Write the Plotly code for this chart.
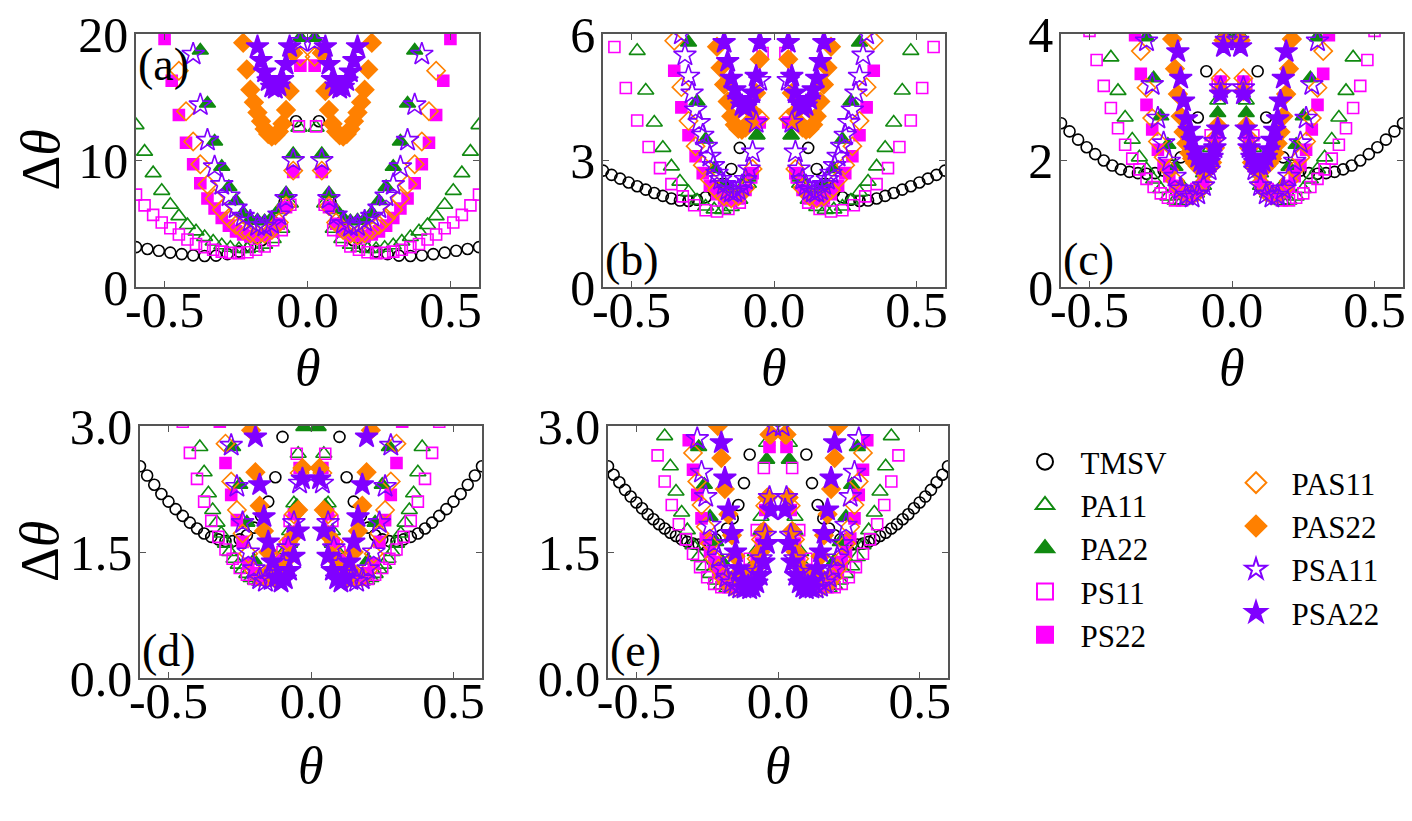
import plotly.graph_objects as go

names = ["TMSV", "PA11", "PA22", "PS11", "PS22", "PAS11", "PAS22", "PSA11", "PSA22"]

# curves are symmetric in theta; values below are the theta > 0 half,
# first point at theta = step, None = above the frame
steps_a = [0.04, 0.03, 0.025, 0.03, 0.025, 0.025, 0.0125, 0.025, 0.0125]
a_tmsv = [13.1, 6.7, 4.6, 3.7, 3.2, 2.8, 2.6, 2.48, 2.45, 2.5, 2.6, 2.72, 2.86, 3.0, 3.15]
a_pa11 = [12.6, 6.6, 4.6, 3.8, 3.35, 3.1, 3.0, 3.0, 3.1, 3.3, 3.6, 3.95, 4.4, 4.9, 5.6, 6.5, 7.6, 9.0, 10.7, 12.8]
a_pa22 = [19.7, 10.5, 7.4, 6.1, 5.45, 5.2, 5.25, 5.35, 5.85, 6.8, 7.9, 9.5, 11.5, 14.5, 18.7]
a_ps11 = [12.7, 6.5, 4.5, 3.7, 3.2, 2.95, 2.75, 2.68, 2.7, 2.8, 2.95, 3.15, 3.4, 3.75, 4.15, 4.65, 5.1, 5.7, 6.45, 7.3]
a_ps22 = [17.5, 9.1, 6.3, 5.0, 4.4, 4.1, 4.05, 4.0, 4.15, 4.4, 4.85, 5.45, 6.2, 7.0, 8.2, 9.7, 11.4, 13.6, 16.3, 19.6]
a_pas11 = [18.2, 9.2, 6.4, 5.1, 4.5, 4.2, 4.1, 4.25, 4.5, 4.9, 5.45, 6.1, 7.0, 8.1, 9.7, 11.5, 13.9, 17.1]
a_pas22 = [None, None, None, 18.5, 15.5, 14.0, 12.9, 12.3, 12.0, 11.9, 12.1, 12.5, 13.1, 13.8, 14.6, 15.6, 17.2, 19.3]
a_psa11 = [19.4, 10.0, 7.0, 5.7, 5.0, 4.8, 4.85, 5.2, 5.6, 6.25, 7.2, 8.1, 9.5, 11.6, 14.4, 18.4]
a_psa22 = [None, None, None, None, 19.0, 17.6, 16.4, 15.9, 15.7, 15.8, 16.3, 17.0, 17.9, 19.0]

steps_b = [0.03, 0.03, 0.03, 0.04, 0.025, 0.025, 0.0125, 0.0125, 0.0125]
b_tmsv = [None, None, None, 3.3, 2.8, 2.45, 2.25, 2.13, 2.07, 2.04, 2.05, 2.1, 2.16, 2.23, 2.31, 2.39, 2.48, 2.57, 2.66, 2.76]
b_pa11 = [None, 3.6, 2.45, 2.07, 1.9, 1.83, 1.84, 1.91, 2.05, 2.25, 2.5, 2.86, 3.3, 3.9, 4.66, 5.6]
b_pa22 = [None, 3.6, 2.6, 2.3, 2.25, 2.4, 2.8, 3.5, 4.4, 5.8]
b_ps11 = [5.55, 2.6, 2.0, 1.85, 1.79, 1.82, 1.94, 2.15, 2.44, 2.82, 3.32, 3.95, 4.72, 5.69]
b_ps22 = [None, 3.9, 2.7, 2.3, 2.1, 2.05, 2.1, 2.2, 2.4, 2.7, 3.1, 3.6, 4.26, 5.13]
b_pas11 = [None, 4.0, 2.8, 2.35, 2.15, 2.1, 2.15, 2.3, 2.55, 2.89, 3.34, 3.94, 4.74, 5.84]
b_pas22 = [None, None, None, 5.4, 4.6, 4.15, 3.9, 3.78, 3.73, 3.75, 3.85, 4.05, 4.4, 4.8, 5.2, 5.7]
b_psa11 = [None, None, None, 4.9, 3.9, 3.2, 2.8, 2.55, 2.4, 2.3, 2.25, 2.25, 2.3, 2.43, 2.55, 2.7,
           2.88, 3.1, 3.34, 3.6, 3.9, 4.2, 4.6, 5.0, 5.5, 6.0]
b_psa22 = [None, None, None, 5.8, 5.0, 4.6, 4.35, 4.25, 4.3, 4.45, 4.68, 4.95, 5.35, 5.8]

steps_c = [0.03, 0.025, 0.025, 0.025, 0.02, 0.02, 0.01, 0.02, 0.01]
c_tmsv = [None, None, 3.41, 2.68, 2.3, 2.05, 1.92, 1.84, 1.8, 1.79, 1.8, 1.82, 1.86, 1.92, 2.0, 2.1, 2.21, 2.33, 2.46, 2.59]
c_pa11 = [None, 2.95, 2.2, 1.8, 1.55, 1.42, 1.36, 1.37, 1.43, 1.55, 1.7, 1.86, 2.05, 2.33, 2.68, 3.1, 3.63]
c_pa22 = [4.0, 2.75, 1.95, 1.6, 1.48, 1.45, 1.6, 1.9, 2.25, 2.7, 3.3, 3.95]
c_ps11 = [None, 3.2, 2.4, 1.85, 1.55, 1.42, 1.37, 1.37, 1.41, 1.48, 1.58, 1.71, 1.86, 2.03, 2.25, 2.51, 2.83, 3.18, 3.59, 4.05]
c_ps22 = [None, 3.25, 2.3, 1.9, 1.65, 1.52, 1.45, 1.45, 1.5, 1.6, 1.75, 1.93, 2.17, 2.49, 2.88, 3.37, 3.98]
c_pas11 = [None, 3.3, 2.35, 1.9, 1.65, 1.5, 1.45, 1.47, 1.55, 1.68, 1.85, 2.05, 2.3, 2.67, 3.15, 3.73]
c_pas22 = [None, None, 3.9, 3.1, 2.55, 2.2, 1.97, 1.88, 1.85, 1.85, 1.87, 1.91, 1.96, 2.03, 2.12, 2.27,
           2.45, 2.7, 3.05, 3.45, 3.92]
c_psa11 = [3.9, 3.15, 2.3, 1.85, 1.6, 1.47, 1.42, 1.45, 1.55, 1.75, 1.99, 2.28, 2.67, 3.2, 3.89]
c_psa22 = [None, None, 3.8, 3.05, 2.5, 2.2, 2.05, 1.97, 1.93, 1.93, 1.98, 2.05, 2.17, 2.32, 2.48, 2.66,
           2.94, 3.3, 3.72]

steps_d = [0.025, 0.015, 0.025, 0.025, 0.02, 0.02, 0.015, 0.02, 0.015]
d_tmsv = [None, None, None, 2.87, 2.39, 2.1, 1.93, 1.79, 1.7, 1.65, 1.63, 1.63, 1.65, 1.68, 1.72, 1.78,
          1.85, 1.93, 2.01, 2.1, 2.19, 2.3, 2.41, 2.52]
d_pa11 = [None, None, 2.67, 2.08, 1.75, 1.52, 1.38, 1.28, 1.22, 1.18, 1.16, 1.15, 1.16, 1.19, 1.24, 1.29,
          1.35, 1.42, 1.5, 1.6, 1.72, 1.85, 2.0, 2.2, 2.45, 2.75, 3.05]
d_pa22 = [2.99, 2.05, 1.6, 1.36, 1.22, 1.15, 1.18, 1.4, 1.85, 2.3, 2.75, 3.3]
d_ps11 = [None, 2.67, 1.87, 1.5, 1.32, 1.22, 1.18, 1.18, 1.23, 1.31, 1.42, 1.53, 1.68, 1.87, 2.1, 2.37, 2.68, 3.05]
d_ps22 = [None, 2.5, 1.95, 1.6, 1.4, 1.28, 1.2, 1.17, 1.18, 1.25, 1.36, 1.62, 1.88, 2.18, 2.56, 3.05]
d_pas11 = [None, 2.44, 1.95, 1.62, 1.42, 1.3, 1.22, 1.19, 1.2, 1.28, 1.48, 1.72, 2.0, 2.34, 2.79, 3.3]
d_pas22 = [None, 2.5, 2.0, 1.7, 1.45, 1.3, 1.2, 1.16, 1.3, 1.5, 1.75, 2.05, 2.45, 2.95]
d_psa11 = [None, 2.32, 1.85, 1.55, 1.36, 1.24, 1.17, 1.15, 1.18, 1.3, 1.5, 1.85, 2.28, 2.77]
d_psa22 = [None, 2.37, 1.75, 1.45, 1.28, 1.18, 1.14, 1.2, 1.38, 1.62, 1.92, 2.3, 2.87]

steps_e = [0.02, 0.02, 0.02, 0.025, 0.015, 0.015, 0.0125, 0.015, 0.0125]
e_tmsv = [None, None, None, None, 2.66, 2.32, 2.06, 1.9, 1.78, 1.7, 1.65, 1.61, 1.59, 1.59, 1.6, 1.62,
          1.65, 1.69, 1.73, 1.78, 1.83, 1.89, 1.95, 2.02, 2.09, 2.16, 2.24, 2.33, 2.42, 2.52]
e_pa11 = [None, 2.8, 1.92, 1.5, 1.3, 1.17, 1.1, 1.07, 1.07, 1.1, 1.16, 1.24, 1.33, 1.44, 1.58, 1.76,
          1.97, 2.22, 2.52, 2.88]
e_pa22 = [None, 2.6, 1.75, 1.35, 1.18, 1.1, 1.06, 1.1, 1.2, 1.4, 1.62, 1.92, 2.3, 2.75]
e_ps11 = [None, 2.5, 1.76, 1.42, 1.22, 1.12, 1.08, 1.08, 1.12, 1.2, 1.32, 1.48, 1.65, 1.83, 2.06, 2.34, 2.65]
e_ps22 = [None, 2.75, 2.0, 1.6, 1.38, 1.24, 1.15, 1.1, 1.08, 1.08, 1.1, 1.14, 1.2, 1.28, 1.38, 1.5,
          1.66, 1.9, 2.18, 2.48, 2.83]
e_pas11 = [None, 2.9, 2.05, 1.65, 1.42, 1.27, 1.18, 1.12, 1.09, 1.08, 1.1, 1.13, 1.2, 1.3, 1.42, 1.6,
           1.8, 2.06, 2.34, 2.68]
e_pas22 = [None, 2.9, 2.15, 1.75, 1.5, 1.33, 1.2, 1.12, 1.08, 1.12, 1.25, 1.45, 1.7, 1.95, 2.25, 2.62, 3.0]
e_psa11 = [3.0, 2.15, 1.7, 1.42, 1.26, 1.16, 1.1, 1.07, 1.07, 1.09, 1.13, 1.2, 1.3, 1.43, 1.6, 1.82,
           2.16, 2.45, 2.85]
e_psa22 = [None, 2.0, 1.6, 1.38, 1.22, 1.13, 1.08, 1.06, 1.08, 1.15, 1.3, 1.5, 1.72, 2.0, 2.38, 2.8]

panels = [
    ("a", steps_a, [a_tmsv, a_pa11, a_pa22, a_ps11, a_ps22, a_pas11, a_pas22, a_psa11, a_psa22]),
    ("b", steps_b, [b_tmsv, b_pa11, b_pa22, b_ps11, b_ps22, b_pas11, b_pas22, b_psa11, b_psa22]),
    ("c", steps_c, [c_tmsv, c_pa11, c_pa22, c_ps11, c_ps22, c_pas11, c_pas22, c_psa11, c_psa22]),
    ("d", steps_d, [d_tmsv, d_pa11, d_pa22, d_ps11, d_ps22, d_pas11, d_pas22, d_psa11, d_psa22]),
    ("e", steps_e, [e_tmsv, e_pa11, e_pa22, e_ps11, e_ps22, e_pas11, e_pas22, e_psa11, e_psa22]),
]
yticks = {"a": [0, 10, 20], "b": [0, 3, 6], "c": [0, 2, 4], "d": [0, 1.5, 3], "e": [0, 1.5, 3]}
xticks = [-0.5, 0, 0.5]
xticktext = ["-0.5", "0.0", "0.5"]

GREEN, MAG, ORANGE, PURPLE = "#118a11", "#ff00ff", "#ff8000", "#8000ff"
styles = [
    ("circle-open", "black", 11),
    ("triangle-up-open", GREEN, 14),
    ("triangle-up", GREEN, 14),
    ("square-open", MAG, 11),
    ("square", MAG, 11),
    ("diamond-open", ORANGE, 14),
    ("diamond", ORANGE, 14),
    ("star-open", PURPLE, 17),
    ("star", PURPLE, 17),
]

W, H = 1412, 821
# plot frames in pixels: left, right, top, bottom
frames = {"a": (136, 479, 34, 287), "b": (603, 945, 34, 287), "c": (1061, 1403, 34, 287),
          "d": (140, 482, 426, 678), "e": (608, 948, 426, 678)}
# gap from frame bottom to the centre of the theta label, per row
title_gap = {"a": 80, "b": 80, "c": 80, "d": 87, "e": 87}
FONT = "Liberation Serif"

fig = go.Figure()
for i, (p, steps, series) in enumerate(panels):
    ax = "" if i == 0 else str(i + 1)
    for j, vals in enumerate(series):
        st = steps[j]
        th = [round(st * (k + 1), 4) for k in range(len(vals))]
        xs = [-t for t in th[::-1]] + th
        ys = vals[::-1] + vals
        sym, col, sz = styles[j]
        fig.add_trace(go.Scatter(
            x=xs, y=ys, mode="markers", name=names[j],
            xaxis="x" + ax, yaxis="y" + ax, showlegend=False,
            marker=dict(symbol=sym, color=col, size=sz, line=dict(color=col, width=1.6)),
        ))

    l, r, t, b = frames[p]
    axis_common = dict(showline=True, linecolor="#555", linewidth=1.5, mirror="ticks",
                       ticks="inside", ticklen=6, tickwidth=1.2, tickcolor="#555",
                       showgrid=False, zeroline=False, automargin=False,
                       ticklabeloverflow="allow",
                       tickfont=dict(family=FONT, size=50, color="black"))
    fig.update_layout(**{
        "xaxis" + ax: dict(domain=[l / W, r / W], range=[-0.6, 0.6], anchor="y" + ax,
                           tickvals=xticks, ticktext=xticktext, ticklabelstandoff=-22,
                           **axis_common),
        "yaxis" + ax: dict(domain=[1 - b / H, 1 - t / H], range=[0, yticks[p][-1]], anchor="x" + ax,
                           tickvals=yticks[p], tickformat=".1f" if p in "de" else "d",
                           ticklabelstandoff=-4, **axis_common),
    })
    # axis titles
    fig.add_annotation(text="<i>θ</i>", xref="x%s domain" % ax, yref="paper",
                       x=0.5, y=1 - (b + title_gap[p]) / H, xanchor="center", yanchor="middle",
                       showarrow=False, font=dict(family=FONT, size=52, color="black"))
    if p in "ad":
        fig.add_annotation(text="Δ<i>θ</i>", xref="paper", yref="y%s domain" % ax,
                           x=40 / W, y=0.5, xanchor="center", yanchor="middle",
                           textangle=-90, showarrow=False,
                           font=dict(family=FONT, size=54, color="black"))
    top = p == "a"
    fig.add_annotation(text="(%s)" % p, xref="x%s domain" % ax, yref="y%s domain" % ax,
                       x=0.0, y=0.99 if top else 0.0, xanchor="left",
                       yanchor="top" if top else "bottom", showarrow=False,
                       font=dict(family=FONT, size=46, color="black"))

# legend-only entries (two columns)
NB = "\u00a0\u00a0"
for j, n in enumerate(names):
    sym, col, sz = styles[j]
    fig.add_trace(go.Scatter(
        x=[None], y=[None], mode="markers", name=NB + n,
        legend="legend" if j < 5 else "legend2",
        marker=dict(symbol=sym, color=col, size=16, line=dict(color=col, width=2)),
    ))

fig.update_layout(
    width=W, height=H, margin=dict(l=0, r=0, t=0, b=0),
    plot_bgcolor="white", paper_bgcolor="white",
    font=dict(family=FONT, color="black"),
    legend=dict(x=1025 / W, y=1 - 435 / H, xanchor="left", yanchor="top",
                font=dict(family=FONT, size=31), bgcolor="rgba(0,0,0,0)", tracegroupgap=0),
    legend2=dict(x=1236 / W, y=1 - 456 / H, xanchor="left", yanchor="top",
                 font=dict(family=FONT, size=31), bgcolor="rgba(0,0,0,0)", tracegroupgap=0),
)

fig.write_html("out.html", config={"displayModeBar": False},
               post_script="document.body.style.margin = '0';")
